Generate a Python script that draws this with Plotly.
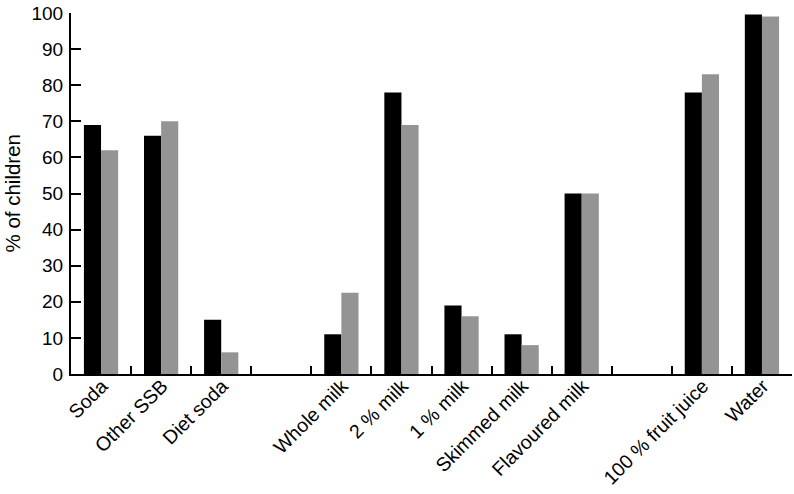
import plotly.graph_objects as go

categories = ["Soda", "Other SSB", "Diet soda", " ", "Whole milk", "2 % milk", "1 % milk",
              "Skimmed milk", "Flavoured milk", "  ", "100 % fruit juice", "Water"]
bar_categories = ["Soda", "Other SSB", "Diet soda", "Whole milk", "2 % milk", "1 % milk",
                  "Skimmed milk", "Flavoured milk", "100 % fruit juice", "Water"]
series_black = [69, 66, 15, 11, 78, 19, 11, 50, 78, 99.6]
series_grey = [62, 70, 6, 22.5, 69, 16, 8, 50, 83, 99]
y_ticks = [0, 10, 20, 30, 40, 50, 60, 70, 80, 90, 100]
y_title = "% of children"

fig = go.Figure()
fig.add_trace(go.Bar(x=bar_categories, y=series_black, marker=dict(color="#000000", line=dict(width=0)), name="A"))
fig.add_trace(go.Bar(x=bar_categories, y=series_grey, marker=dict(color="#949494", line=dict(width=0)), name="B"))

font = dict(family="Liberation Sans, Arial, sans-serif", size=19, color="#000000")
xfont = dict(family="Liberation Sans, Arial, sans-serif", size=19.5, color="#000000")
tfont = dict(family="Liberation Sans, Arial, sans-serif", size=20.5, color="#000000")
fig.update_layout(
    width=794, height=494,
    margin=dict(l=71, r=2, t=13, b=120, pad=0),
    paper_bgcolor="white", plot_bgcolor="white",
    barmode="group", bargap=0.43, bargroupgap=0,
    showlegend=False,
    font=font,
)
fig.update_xaxes(
    type="category", categoryorder="array", categoryarray=categories,
    range=[-0.5, 11.5], automargin=False,
    tickson="boundaries", ticks="inside", ticklen=8, tickwidth=2, tickcolor="black",
    showline=True, linecolor="black", linewidth=2,
    tickangle=-45, tickfont=xfont, showgrid=False, zeroline=False,
    ticklabelstandoff=-9, ticklabelshift=1,
)
fig.update_yaxes(
    range=[0, 100], tickvals=y_ticks, automargin=False, ticklabeloverflow="allow",
    ticks="inside", ticklen=10, tickwidth=2, tickcolor="black",
    showline=True, linecolor="black", linewidth=2,
    tickfont=font, showgrid=False, zeroline=False, ticklabelstandoff=2,
)
fig.add_annotation(
    text=y_title, xref="paper", yref="paper", x=-0.0818, y=0.5,
    xanchor="center", yanchor="middle", textangle=-90, showarrow=False, font=tfont,
)
fig.write_html("out.html", config={"displayModeBar": False},
               post_script="document.body.style.margin='0';document.body.style.overflow='hidden';")
